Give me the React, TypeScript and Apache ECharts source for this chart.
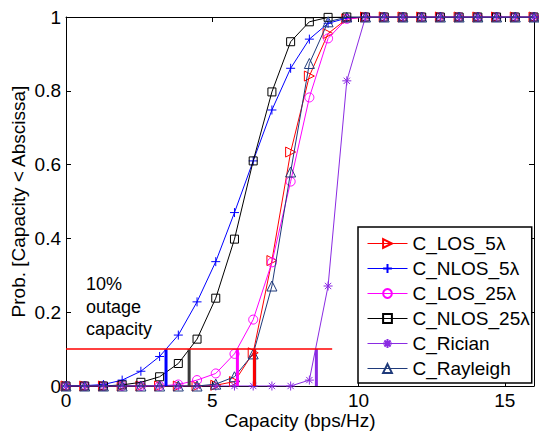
import React, { useEffect, useRef } from "react";
import * as echarts from "echarts";

const capacity = [0, 0.64, 1.28, 1.92, 2.56, 3.2, 3.84, 4.48, 5.12, 5.76, 6.4, 7.04, 7.68, 8.32, 8.96, 9.6, 10.24, 10.88, 11.52, 12.16, 12.8, 13.44, 14.08, 14.72, 15.36, 16];

const losFive = [0, 0, 0, 0, 0, 0, 0, 0, 0.002, 0.012, 0.09, 0.34, 0.634, 0.84, 0.955, 0.995, 1, 1, 1, 1, 1, 1, 1, 1, 1, 1];
const nlosFive = [0, 0.001, 0.004, 0.016, 0.04, 0.08, 0.138, 0.228, 0.337, 0.47, 0.61, 0.748, 0.861, 0.94, 0.983, 0.997, 1, 1, 1, 1, 1, 1, 1, 1, 1, 1];
const losTwentyFive = [0, 0, 0, 0, 0, 0, 0.004, 0.016, 0.034, 0.087, 0.18, 0.335, 0.554, 0.782, 0.942, 0.995, 1, 1, 1, 1, 1, 1, 1, 1, 1, 1];
const nlosTwentyFive = [0, 0, 0, 0.003, 0.01, 0.025, 0.061, 0.127, 0.238, 0.398, 0.61, 0.797, 0.933, 0.987, 0.999, 1, 1, 1, 1, 1, 1, 1, 1, 1, 1, 1];
const rician = [0, 0, 0, 0, 0, 0, 0, 0, 0, 0, 0, 0, 0, 0.016, 0.271, 0.827, 1, 1, 1, 1, 1, 1, 1, 1, 1, 1];
const rayleigh = [0, 0, 0, 0, 0, 0, 0, 0, 0.005, 0.025, 0.087, 0.271, 0.58, 0.874, 0.987, 1, 1, 1, 1, 1, 1, 1, 1, 1, 1, 1];

const seriesNames = ["C_LOS_5λ", "C_NLOS_5λ", "C_LOS_25λ", "C_NLOS_25λ", "C_Rician", "C_Rayleigh"];

// 10% outage capacity per curve (same order as seriesNames)
const outageLevel = 0.1;
const outageLineEnd = 9.1;
const outageCapacity = [6.44, 3.42, 5.86, 4.21, 8.56, 6.45];

const xTicks = [0, 5, 10, 15];

const FONT = "Liberation Sans, Arial, Helvetica, sans-serif";

const PLUS = "path://M0,5L10,5M5,0L5,10";
const STAR = "path://M0,5L10,5M5,0L5,10M1.5,1.5L8.5,8.5M8.5,1.5L1.5,8.5";

export default function App() {
  const ref = useRef<HTMLDivElement>(null);
  useEffect(() => {
    if (!ref.current) return;
    const chart = echarts.init(ref.current, null, { renderer: "svg" });
    const allValues = [losFive, nlosFive, losTwentyFive, nlosTwentyFive, rician, rayleigh];
    const colors = ["#ff0000", "#0000ff", "#ff00ff", "#000000", "#8a2be2", "#1f3a7a"];
    const vColors = ["#ff0000", "#0000ff", "#ff00ff", "#3a3a3a", "#8a2be2", "#1f3a7a"];
    const symbols = ["triangle", PLUS, "circle", "rect", STAR, "triangle"];
    const sizes = [10, 9, 9, 8, 9, 10];
    const rotates = [-90, 0, 0, 0, 0, 0];
    const mainSeries: any[] = seriesNames.map((name, k) => ({
      name,
      type: "line",
      xAxisIndex: 0,
      yAxisIndex: 0,
      data: capacity.map((c, i) => [c, allValues[k][i]]),
      symbol: symbols[k],
      symbolSize: sizes[k],
      symbolRotate: rotates[k],
      showAllSymbol: true,
      lineStyle: { color: colors[k], width: 1 },
      itemStyle: { color: "none", borderColor: colors[k], borderWidth: 1 },
      z: 2 + k,
    }));
    const drawOrder = [5, 0, 1, 2, 3, 4];
    const outageSeries: any[] = drawOrder.map((k) => ({
      type: "line",
      data: [
        [outageCapacity[k], 0],
        [outageCapacity[k], outageLevel],
      ],
      symbol: "none",
      lineStyle: { color: vColors[k], width: 3 },
      z: 10,
      silent: true,
    }));
    const horiz = {
      type: "line",
      data: [
        [0, outageLevel],
        [outageLineEnd, outageLevel],
      ],
      symbol: "none",
      lineStyle: { color: "#ff0000", width: 1.5 },
      z: 11,
      silent: true,
    };
    const axisCommon = {
      axisLine: { show: true, onZero: false, lineStyle: { color: "#000", width: 1 } },
      axisTick: { show: true, inside: true, length: 5, lineStyle: { color: "#000" } },
      splitLine: { show: false },
    };
    chart.setOption({
      animation: false,
      backgroundColor: "#fff",
      textStyle: { fontFamily: FONT },
      grid: {
        left: 66,
        right: 5,
        top: 17,
        bottom: 46,
        show: false,
        containLabel: false,
        outerBoundsMode: "none",
      },
      xAxis: [
        {
          type: "value",
          min: 0,
          max: 16,
          interval: 5,
          position: "bottom",
          ...axisCommon,
          axisLabel: {
            color: "#000",
            fontSize: 19,
            fontFamily: FONT,
            margin: 5,
            formatter: (v: number) => (xTicks.indexOf(v) >= 0 ? String(v) : ""),
          },
          name: "Capacity (bps/Hz)",
          nameLocation: "middle",
          nameGap: 25,
          nameMoveOverlap: false,
          nameTextStyle: { color: "#000", fontSize: 19, fontFamily: FONT },
        },
        {
          type: "value",
          min: 0,
          max: 16,
          interval: 5,
          position: "top",
          ...axisCommon,
          axisLabel: { show: false },
        },
      ],
      yAxis: [
        {
          type: "value",
          min: 0,
          max: 1,
          interval: 0.2,
          position: "left",
          ...axisCommon,
          axisLabel: { color: "#000", fontSize: 19, fontFamily: FONT, margin: 5 },
          name: "Prob. [Capacity < Abscissa]",
          nameLocation: "middle",
          nameRotate: 90,
          nameGap: 38,
          nameMoveOverlap: false,
          nameTextStyle: { color: "#000", fontSize: 19, fontFamily: FONT },
        },
        {
          type: "value",
          min: 0,
          max: 1,
          interval: 0.2,
          position: "right",
          ...axisCommon,
          axisLabel: { show: false },
        },
      ],
      legend: {
        data: seriesNames,
        orient: "vertical",
        left: 358,
        top: 227,
        itemWidth: 40,
        itemHeight: 11,
        itemGap: 6,
        padding: [7, 2, 5, 9],
        backgroundColor: "#fff",
        borderColor: "#000",
        borderWidth: 1.5,
        borderRadius: 0,
        lineStyle: { width: 1 },
        textStyle: { color: "#000", fontSize: 19, fontFamily: FONT },
        z: 20,
      },
      graphic: [
        {
          type: "text",
          left: 86,
          top: 273,
          style: {
            text: "10%\noutage\ncapacity",
            fill: "#000",
            fontSize: 18,
            lineHeight: 22.5,
            fontFamily: FONT,
          },
          z: 30,
        },
      ],
      series: [...mainSeries, ...outageSeries, horiz],
    });
    return () => chart.dispose();
  }, []);
  return (
    <div
      ref={ref}
      style={{ position: "absolute", left: 0, top: 0, width: 539, height: 432 }}
    />
  );
}
